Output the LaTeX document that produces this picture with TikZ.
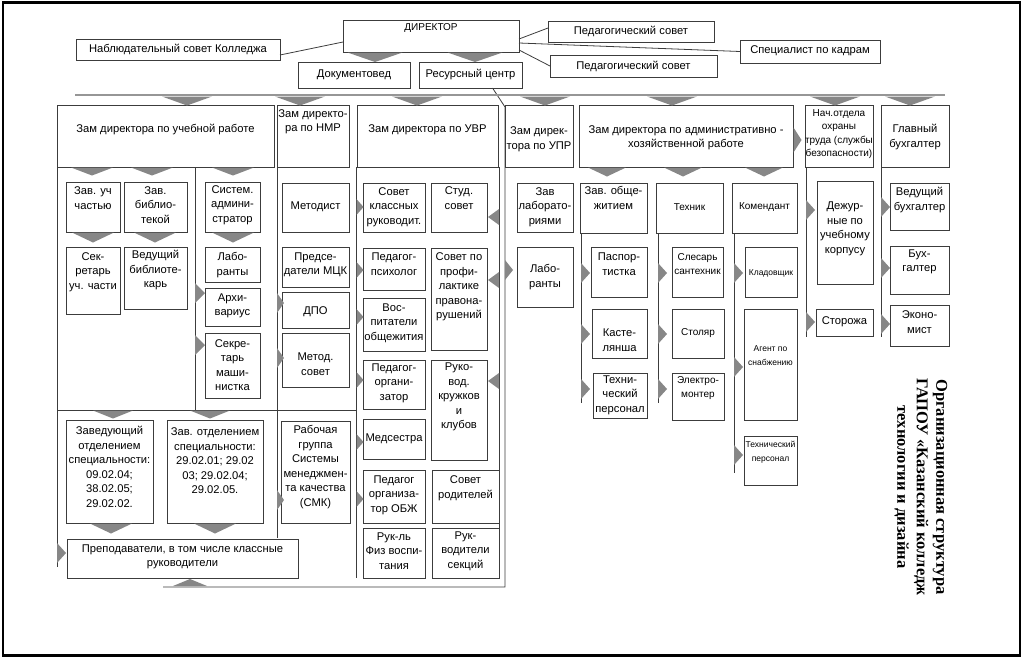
\documentclass[tikz,border=0pt]{standalone}
\usepackage{fontspec}
\setmainfont{Liberation Sans}
\newfontfamily\titlefont{Liberation Serif}
\definecolor{bcol}{RGB}{60,60,60}
\definecolor{tcol}{RGB}{135,135,135}
\definecolor{gl}{RGB}{150,150,150}
\newcommand\fs{\fontsize{11.2}{14.5}\selectfont}
\newcommand\fsm{\fontsize{10}{14}\selectfont}
\newcommand\fss{\fontsize{8.5}{14}\selectfont}
\newcommand\fsh{\fontsize{10}{13.3}\selectfont}
% box with text centred at a given y
\newcommand\bx[8][]{%
  \node[box,minimum width={(#5)-(#3)},minimum height={(#6)-(#4)}] (#2) at ({((#3)+(#5))/2},{((#4)+(#6))/2}) {};
  \node[txt,#1] (#2t) at ({((#3)+(#5))/2},#7) {#8};}
\newcommand\triD[4]{\fill[tcol] ({#1-#3/2},#2) -- ({#1+#3/2},#2) -- (#1,{#2+#4}) -- cycle;}
\newcommand\triR[4]{\fill[tcol] (#1,{#2-#4/2}) -- ({#1+#3},#2) -- (#1,{#2+#4/2}) -- cycle;}
\newcommand\triL[4]{\fill[tcol] (#1,{#2-#4/2}) -- ({#1-#3},#2) -- (#1,{#2+#4/2}) -- cycle;}
\newcommand\triU[4]{\fill[tcol] ({#1-#3/2},#2) -- ({#1+#3/2},#2) -- (#1,{#2-#4}) -- cycle;}
\begin{document}
\begin{tikzpicture}[x=1pt,y=-1pt,
  box/.style={draw=bcol,line width=0.8pt,fill=white,inner sep=0pt,outer sep=0pt},
  txt/.style={inner sep=0pt,align=center,font=\fs},
  ln/.style={draw=bcol,line width=0.8pt},
  gline/.style={draw=gl,line width=2.5pt}]
\useasboundingbox (0,0) rectangle (1024,659);
\draw[line width=2.5pt] (3,2.5) rectangle (1020,655.5);

% top level
\bx[font=\fsm]{dir}{343}{20}{519}{52}{28}{ДИРЕКТОР}
\bx{nab}{76}{39}{280}{60}{49.5}{Наблюдательный совет Колледжа}
\bx{doc}{298}{62}{410}{88}{75}{Документовед}
\bx{res}{419}{62}{522}{88}{75}{Ресурсный центр}
\bx{ped1}{548}{21}{714}{42}{31.5}{Педагогический совет}
\bx{spec}{740}{40}{880}{63}{51}{Специалист по кадрам}
\bx{ped2}{550}{55}{717}{77}{66}{Педагогический совет}

\draw[ln] ([yshift=-5.5pt]nab.east) -- ([yshift=-6pt]dir.west);
\draw[ln] ([yshift=-3pt]dir.east) -- ([yshift=3.5pt]ped1.west);
\draw[ln] ([yshift=-7pt]dir.east) -- (spec.west);
\draw[ln] ([yshift=-14pt]dir.east) -- (ped2.west);
\coordinate (rA) at (505,107);
\coordinate (rB) at (505,587);
\coordinate (rC) at (163,587);
\draw[ln] ([xshift=22pt]res.south) -- (rA) -- (rB) -- (rC);

\draw[gline] (75,95) -- (945,95);

% structural lines
\draw[ln] (57,167) -- (57,567);
\draw[ln] (195,167) -- (195,410);
\draw[ln] (277,167) -- (277,538);
\draw[ln] (356.5,167) -- (356.5,578);
\draw[ln] (57,410) -- (356.5,410);
\draw[ln] (499,167) -- (499,578);
\draw[ln] (581,233) -- (581,403);
\draw[ln] (658,233) -- (658,403);
\draw[ln] (734,233) -- (734,473);
\draw[ln] (806,167) -- (806,337);
\draw[ln] (881,167) -- (881,337);

% headers
\bx{h1}{57}{105}{274}{167}{130}{Зам директора по учебной работе}
\bx{h2}{277}{105}{349}{167}{122}{Зам директо-\\ра по НМР}
\bx{h3}{357}{105}{498}{167}{130}{Зам директора по УВР}
\bx{h4}{505}{105}{573}{167}{139}{Зам дирек-\\тора по УПР}
\bx{h5}{579}{105}{793}{167}{138}{Зам директора по административно -\\хозяйственной работе}
\bx[font=\fsh]{h6}{805}{105}{873}{167}{134}{Нач.отдела\\охраны\\труда (службы\\безопасности)}
\bx{h7}{881}{105}{949}{167}{137}{Главный\\бухгалтер}

% column 1
\bx{a1}{66}{182}{120}{232}{198}{Зав. уч\\частью}
\bx{a2}{124}{182}{187}{232}{205}{Зав.\\библио-\\текой}
\bx{a3}{205}{182}{260}{232}{205}{Систем.\\админи-\\стратор}
\bx{a4}{66}{247}{120}{314}{272}{Сек-\\ретарь\\уч. части}
\bx{a5}{124}{247}{187}{309}{270}{Ведущий\\библиоте-\\карь}
\bx{a6}{205}{247}{260}{282}{265}{Лабо-\\ранты}
\bx{a7}{205}{288}{260}{326}{306}{Архи-\\вариус}
\bx{a8}{205}{333}{260}{398}{365}{Секре-\\тарь\\маши-\\нистка}
\bx{a9}{66}{420}{153}{523}{467}{Заведующий\\отделением\\специальности:\\09.02.04;\\38.02.05;\\29.02.02.}
\bx{a10}{167}{420}{263}{523}{461}{Зав. отделением\\специальности:\\29.02.01; 29.02\\03; 29.02.04;\\29.02.05.}
\bx{a11}{67}{539}{298}{578}{557}{Преподаватели, в том числе классные\\руководители}

% column 2
\bx{b1}{282}{183}{349}{232}{207}{Методист}
\bx{b2}{282}{247}{349}{287}{265}{Предсе-\\датели МЦК}
\bx{b3}{282}{292}{349}{328}{312}{ДПО}
\bx{b4}{282}{333}{349}{387}{364}{Метод.\\совет}
\bx{b5}{281}{421}{350}{523}{467}{Рабочая\\группа\\Системы\\менеджмен-\\та качества\\(СМК)}

% column 3
\bx{c1}{363}{183}{425}{232}{207}{Совет\\классных\\руководит.}
\bx{c2}{431}{183}{487}{232}{198}{Студ.\\совет}
\bx{c3}{363}{248}{425}{290}{264}{Педагог-\\психолог}
\bx{c4}{431}{248}{487}{350}{287}{Совет по\\профи-\\лактике\\правона-\\рушений}
\bx{c5}{363}{298}{425}{351}{323}{Вос-\\питатели\\общежития}
\bx{c6}{363}{360}{425}{409}{383}{Педагог-\\органи-\\затор}
\bx{c7}{431}{360}{487}{460}{397}{Руко-\\вод.\\кружков\\и\\клубов}
\bx{c8}{363}{419}{425}{459}{439}{Медсестра}
\bx{c9}{363}{470}{425}{523}{495}{Педагог\\организа-\\тор ОБЖ}
\bx{c10}{432}{470}{499}{523}{488}{Совет\\родителей}
\bx{c11}{363}{528}{425}{578}{551}{Рук-ль\\Физ воспи-\\тания}
\bx{c12}{432}{528}{499}{578}{551}{Рук-\\водители\\секций}

% column 4
\bx{d1}{517}{183}{573}{232}{207}{Зав\\лаборато-\\риями}
\bx{d2}{517}{247}{573}{307}{277}{Лабо-\\ранты}

% column 5
\bx{e1}{580}{183}{647}{233}{198}{Зав. обще-\\житием}
\bx[font=\fsm]{e2}{656}{183}{723}{233}{207}{Техник}
\bx[font=\fsm]{e3}{732}{183}{797}{233}{207}{Комендант}
\bx{e4}{591}{247}{647}{297}{264}{Паспор-\\тистка}
\bx[font=\fsm]{e5}{672}{247}{723}{297}{264}{Слесарь\\сантехник}
\bx[font=\fss]{e6}{745}{247}{797}{297}{273}{Кладовщик}
\bx{e7}{592}{309}{647}{358}{340}{Касте-\\лянша}
\bx[font=\fsm]{e8}{672}{309}{724}{358}{333}{Столяр}
\bx[font=\fss]{e9}{744}{309}{797}{420}{356}{Агент по\\снабжению}
\bx{e10}{593}{373}{647}{418}{395}{Техни-\\ческий\\персонал}
\bx[font=\fsm]{e11}{672}{373}{724}{420}{388}{Электро-\\монтер}
\bx[font=\fss]{e12}{744}{436}{797}{485}{452}{Технический\\персонал}

% column 6
\bx{f1}{817}{181}{873}{284}{229}{Дежур-\\ные по\\учебному\\корпусу}
\bx{f2}{816}{309}{873}{336}{322}{Сторожа}

% column 7
\bx{g1}{890}{183}{949}{230}{200}{Ведущий\\бухгалтер}
\bx{g2}{890}{246}{949}{294}{262}{Бух-\\галтер}
\bx{g3}{890}{305}{949}{346}{322}{Эконо-\\мист}

% title
\node[rotate=-90,inner sep=0pt,align=center,font=\titlefont\bfseries\fontsize{16.5}{19.5}\selectfont] (title) at (921,487) {Организационная структура\\ГАПОУ «Казанский колледж\\технологии и дизайна};

% triangles
\foreach \c in {187,300,417,545,672,835,910} {\triD{\c}{96.5}{50}{9}}
\foreach \c in {375,475} {\triD{\c}{52.5}{55}{9.5}}
\foreach \c in {92,152,233} {\triD{\c}{167.5}{42}{8}}
\foreach \c in {93,155,233} {\triD{\c}{232.5}{42}{10}}
\foreach \c in {293,345} {\triR{195}{\c}{10}{20}}
\foreach \c in {113,210} {\triD{\c}{410.5}{40}{8}}
\foreach \c in {111,215} {\triD{\c}{523.5}{42}{10}}
\triR{57}{553}{9}{20}
\triU{190}{586}{34}{7}
\foreach \c in {303,358,500} {\triR{277}{\c}{7}{20}}
\foreach \c in {207,270,317,380,442,499} {\triR{356.5}{\c}{7}{16}}
\foreach \c in {217,280,381} {\triL{499}{\c}{11}{16}}
\triR{505}{270}{8}{20}
\foreach \c in {607,683,764} {\triD{\c}{167.5}{38}{9}}
\foreach \c in {273,334,389} {\triR{581}{\c}{9}{20}}
\foreach \c in {273,334,389} {\triR{658}{\c}{9}{20}}
\foreach \c in {273,367,455} {\triR{734}{\c}{9}{20}}
\triR{793.5}{140}{8}{25}
\foreach \c in {210,322} {\triR{806}{\c}{9}{20}}
\foreach \c in {207,268,324} {\triR{881}{\c}{9}{20}}
\end{tikzpicture}
\end{document}
